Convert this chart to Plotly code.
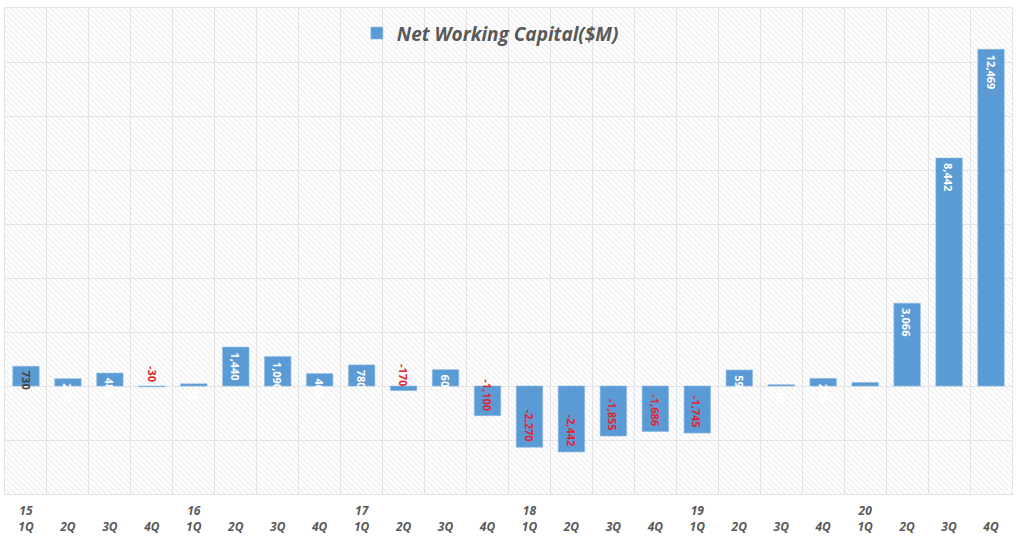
import plotly.graph_objects as go

years = ["15", "16", "17", "18", "19", "20"]
quarters = ["1Q", "2Q", "3Q", "4Q"]
values = [730, 270, 480, -30,
          80, 1440, 1090, 460,
          780, -170, 605, -1100,
          -2270, -2442, -1855, -1686,
          -1745, 592, 48, 280,
          130, 3066, 8442, 12469]
series_name = "Net Working Capital($M)"

categories = [f"{y} {q}" for y in years for q in quarters]
ticktext = [(f"{c.split()[0]}<br>{c.split()[1]}" if c.endswith("1Q") else f" <br>{c.split()[1]}") for c in categories]

y_min, y_max, y_step = -4000, 14000, 2000
blue = "#5B9BD5"
grid = "#e4e4e4"
txt = "#595959"

fig = go.Figure()

# hatched plot background
fig.add_trace(go.Bar(
    x=[categories[0]], y=[y_max - y_min], base=[y_min],
    width=[len(categories)], offset=[-0.5],
    marker=dict(color="rgba(255,255,255,0)", line=dict(width=0),
                pattern=dict(shape="\\", fgcolor="#dcdcdc", bgcolor="rgba(255,255,255,0)",
                             size=4, solidity=0.3)),
    showlegend=False, hoverinfo="skip"))

fig.add_trace(go.Bar(
    x=categories, y=values, name=series_name,
    marker=dict(color=blue, line=dict(width=0.6, color="#8db8e2")),
    showlegend=True))

annotations = []
for c, v in zip(categories, values):
    if v >= 0:
        color = "#404040" if v == 730 else "white"
        annotations.append(dict(x=c, y=v, xref="x", yref="y", text=f"{v:,}",
                                textangle=90, showarrow=False, yanchor="top", yshift=-3,
                                font=dict(family="Open Sans", size=11, color=color, weight="bold")))
    else:
        annotations.append(dict(x=c, y=v, xref="x", yref="y", text=f"{v:,}",
                                textangle=90, showarrow=False, yanchor="bottom", yshift=3,
                                font=dict(family="Open Sans", size=11, color="#e0242f", weight="bold")))

fig.update_layout(
    width=1024, height=549,
    margin=dict(l=5, r=12, t=8, b=55),
    paper_bgcolor="white", plot_bgcolor="white",
    barmode="overlay", bargap=0.37,
    showlegend=True,
    legend=dict(x=0.482, xanchor="center", y=0.948, yanchor="middle",
                bgcolor="rgba(0,0,0,0)",
                font=dict(family="Open Sans", size=19, color=txt, style="italic", weight="bold")),
    annotations=annotations,
    xaxis=dict(type="category", categoryorder="array", categoryarray=categories,
               tickvals=categories, ticktext=ticktext, tickson="boundaries",
               showgrid=True, gridcolor=grid, gridwidth=1, ticks="",
               showline=True, linecolor=grid, mirror=True,
               range=[-0.5, len(categories) - 0.5], ticklabelstandoff=6,
               tickfont=dict(family="Open Sans", size=12, color=txt, style="italic", weight="bold")),
    yaxis=dict(range=[y_min, y_max], dtick=y_step, tick0=0, showticklabels=False,
               showgrid=True, gridcolor=grid, gridwidth=1, zeroline=False,
               showline=True, linecolor=grid, mirror=True, ticks=""),
)

fig.write_html("out.html", config={"displayModeBar": False},
               post_script="document.body.style.margin='0px';")
